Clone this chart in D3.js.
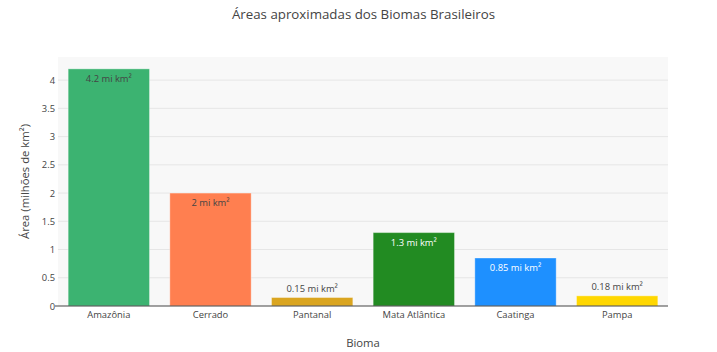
<!DOCTYPE html>
<html>
<head>
<meta charset="utf-8">
<script src="https://cdn.jsdelivr.net/npm/d3@7"></script>
<style>
  body { margin: 0; background: #fff; }
  text { font-family: "Open Sans", sans-serif; fill: #444; }
</style>
</head>
<body>
<div id="chart"></div>
<script>
// data
const biomas = ["Amazônia", "Cerrado", "Pantanal", "Mata Atlântica", "Caatinga", "Pampa"]
const areas = [4.2, 2.0, 0.15, 1.3, 0.85, 0.18]
const rotulos = ["4.2 mi km²", "2 mi km²", "0.15 mi km²", "1.3 mi km²", "0.85 mi km²", "0.18 mi km²"]
const cores = ["#3cb371", "#ff7f50", "#daa520", "#228b22", "#1e90ff", "#ffd700"]
const yTicks = [0, 0.5, 1, 1.5, 2, 2.5, 3, 3.5, 4]

const width = 717, height = 352
const margin = {top: 57, right: 49, bottom: 46, left: 58}
const plotW = width - margin.left - margin.right
const plotH = height - margin.top - margin.bottom

const data = biomas.map((b, i) => ({nome: b, area: areas[i], rotulo: rotulos[i], cor: cores[i]}))

const svg = d3.select("#chart")
    .append("svg")
    .attr("width", width)
    .attr("height", height)

// title
svg.append("text")
    .attr("x", 363.5)
    .attr("y", 19)
    .attr("text-anchor", "middle")
    .attr("font-size", "13.3px")
    .text("Áreas aproximadas dos Biomas Brasileiros")

const g = svg.append("g")
    .attr("transform", `translate(${margin.left},${margin.top})`)

g.append("rect")
    .attr("width", plotW)
    .attr("height", plotH)
    .attr("fill", "#f8f8f8")

const x = d3.scaleBand()
    .domain(biomas)
    .range([0, plotW])
    .paddingInner(0.2)
    .paddingOuter(0.1)

const y = d3.scaleLinear()
    .domain([0, 4.2 * 1.05])
    .range([plotH, 0])

// gridlines
g.selectAll(".grid")
    .data(yTicks.filter(t => t > 0))
    .enter()
    .append("line")
    .attr("x1", 0)
    .attr("x2", plotW)
    .attr("y1", d => y(d))
    .attr("y2", d => y(d))
    .attr("stroke", "#e6e6e6")
    .attr("stroke-width", 1)

// y axis
const yAxis = g.append("g")
    .call(d3.axisLeft(y).tickValues(yTicks).tickSize(0).tickPadding(3).tickFormat(d3.format("")))
yAxis.select(".domain").remove()
yAxis.selectAll("text")
    .attr("font-size", "9.4px")
    .attr("fill", "#444")
    .style("font-family", "'Open Sans', sans-serif")

// bars
const bars = g.selectAll(".bar")
    .data(data)
    .enter()
    .append("g")

bars.append("rect")
    .attr("x", d => x(d.nome))
    .attr("y", d => y(d.area))
    .attr("width", x.bandwidth())
    .attr("height", d => plotH - y(d.area))
    .attr("fill", d => d.cor)
    .attr("stroke", "rgba(255,255,255,0.35)")
    .attr("stroke-width", 1)

// bar labels: inside at top if there is room, otherwise above
bars.append("text")
    .attr("x", d => x(d.nome) + x.bandwidth() / 2)
    .attr("y", d => (plotH - y(d.area)) > 20 ? y(d.area) + 13 : y(d.area) - 6)
    .attr("text-anchor", "middle")
    .attr("font-size", "9.4px")
    .style("fill", d => {
        if ((plotH - y(d.area)) <= 20) return "#444"
        return (d.nome == "Amazônia" || d.nome == "Cerrado") ? "#444" : "#fff"
    })
    .text(d => d.rotulo)

// x axis line
g.append("line")
    .attr("x1", -3)
    .attr("x2", plotW)
    .attr("y1", plotH)
    .attr("y2", plotH)
    .attr("stroke", "#444")
    .attr("stroke-width", 1)

const xAxis = g.append("g")
    .attr("transform", `translate(0,${plotH})`)
    .call(d3.axisBottom(x).tickSize(0).tickPadding(5))
xAxis.select(".domain").remove()
xAxis.selectAll("text")
    .attr("font-size", "9.4px")
    .attr("fill", "#444")
    .style("font-family", "'Open Sans', sans-serif")

// axis titles
svg.append("text")
    .attr("x", margin.left + plotW / 2)
    .attr("y", 347)
    .attr("text-anchor", "middle")
    .attr("font-size", "11.3px")
    .text("Bioma")

svg.append("text")
    .attr("transform", `translate(29,${margin.top + plotH / 2}) rotate(-90)`)
    .attr("text-anchor", "middle")
    .attr("font-size", "11.3px")
    .text("Área (milhões de km²)")
</script>
</body>
</html>
